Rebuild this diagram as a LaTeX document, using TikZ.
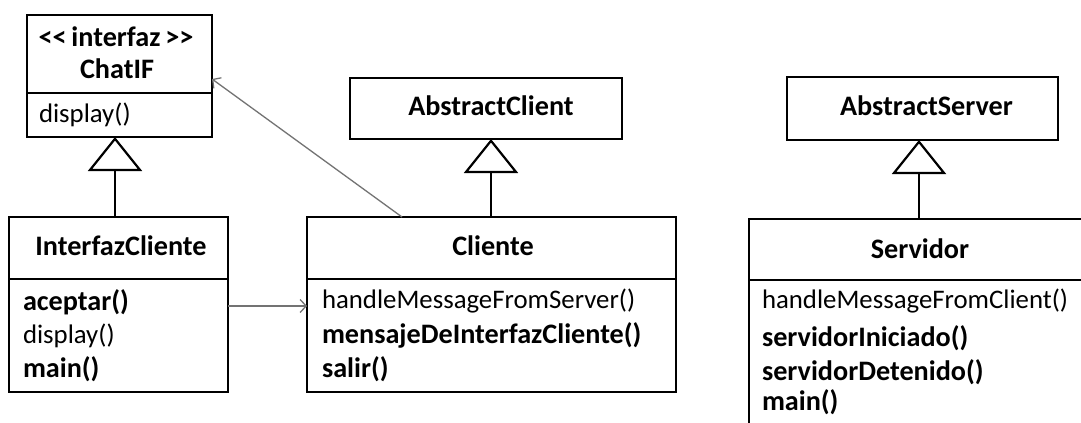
\documentclass[tikz,border=0pt]{standalone}
\usepackage{fontspec}
\setmainfont{Carlito}
\usetikzlibrary{arrows.meta}
\begin{document}
\begin{tikzpicture}[x=1bp,y=-1bp,
  box/.style={draw, line width=2.8bp, inner sep=0pt, outer sep=0pt},
  thinbox/.style={draw, line width=1.6bp, inner sep=0pt, outer sep=0pt},
  txt/.style={inner sep=0pt, outer sep=0pt, text=black, font=\fontsize{26.8bp}{33bp}\selectfont},
  ttl/.style={txt, anchor=base, font=\fontsize{28.2bp}{33bp}\selectfont\bfseries},
  mth/.style={txt, anchor=base west},
  bmth/.style={txt, anchor=base west, font=\fontsize{28.2bp}{33bp}\selectfont\bfseries},
  gen/.style={draw, line width=2.2bp, -{Triangle[open, length=34bp, width=54bp]}},
  assoc/.style={draw=black!55, line width=1.3bp, -{Straight Barb[length=6bp, width=13bp]}}
]
\clip (0,0) rectangle (1081,422);
\fill[white] (0,0) rectangle (1081,422);

% ChatIF
\node[box, minimum width=185bp, minimum height=78bp] (chatifT) at (119.5,54) {};
\node[box, minimum width=185bp, minimum height=44bp] (chatifM) at (119.5,115) {};
\node[ttl] (chatifS) at (116,46) {<\kern0pt<\kern-1.5bp\ interfaz\kern-1.5bp\ >\kern0pt>};
\node[ttl] (chatifN) at (117,78) {ChatIF};
\node[mth] (chatifD) at (39,122) {display()};

% InterfazCliente
\node[box, minimum width=219bp, minimum height=62bp] (ifcT) at (118.5,248) {};
\node[box, minimum width=219bp, minimum height=113bp] (ifcM) at (118.5,335.5) {};
\node[ttl] (ifcN) at (121,255) {InterfazCliente};
\node[bmth] (ifcA) at (23,310) {aceptar()};
\node[mth] (ifcD) at (23,343) {display()};
\node[bmth] (ifcX) at (23,377) {main()};

% AbstractClient
\node[box, minimum width=272bp, minimum height=61bp] (ac) at (486,108.5) {};
\node[ttl] (acN) at (491,115) {AbstractClient};

% Cliente
\node[box, minimum width=369bp, minimum height=62bp] (clT) at (491.5,248) {};
\node[box, minimum width=369bp, minimum height=113bp] (clM) at (491.5,335.5) {};
\node[ttl] (clN) at (493,255) {Cliente};
\node[mth] (clH) at (322,308) {handleMessageFromServer()};
\node[bmth] (clI) at (322,343) {mensajeDeInterfazCliente()};
\node[bmth] (clS) at (322,377) {salir()};

% AbstractServer
\node[box, minimum width=271bp, minimum height=63bp] (as) at (922.5,108.5) {};
\node[ttl] (asN) at (926.5,115) {AbstractServer};

% Servidor
\node[thinbox, minimum width=346bp, minimum height=61bp] (svT) at (922,249.5) {};
\node[thinbox, minimum width=346bp, minimum height=170bp] (svM) at (922,365) {};
\node[ttl] (svN) at (920,258) {Servidor};
\node[mth] (svH) at (762,308) {handleMessageFromClient()};
\node[bmth] (svI) at (762,346) {servidorIniciado()};
\node[bmth] (svD) at (762,380) {servidorDetenido()};
\node[bmth] (svX) at (762,410) {main()};

% connector x/y positions
\coordinate (g1) at (115,0);
\coordinate (g2) at (491,0);
\coordinate (g3) at (919,0);
\coordinate (a1) at (0,306);
\coordinate (a2) at (402,0);
\coordinate (a3) at (0,79);

% generalizations
\draw[gen] (ifcT.north -| g1) -- (chatifM.south -| g1);
\draw[gen] (clT.north -| g2) -- (ac.south -| g2);
\draw[gen] (svT.north -| g3) -- (as.south -| g3);

% associations
\draw[assoc] (ifcM.east |- a1) -- (clM.west |- a1);
\draw[assoc] (clT.north -| a2) -- (chatifT.east |- a3);
\end{tikzpicture}
\end{document}
